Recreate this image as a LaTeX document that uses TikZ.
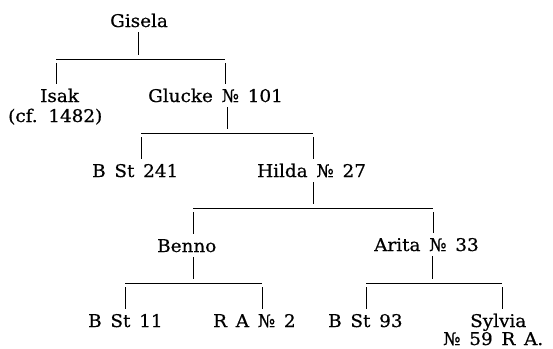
\documentclass[tikz,border=0pt]{standalone}
\usepackage{fontspec}
\newfontfamily\famfont[WordSpace=1.5,FakeBold=0.6,FakeStretch=1.05]{DejaVu Serif}
\begin{document}
\begin{tikzpicture}[x=1pt,y=-1pt]
\tikzset{
  person/.style={font=\famfont\fontsize{17.5}{20}\selectfont, inner xsep=0pt, inner ysep=5pt, anchor=base west},
  line/.style={line width=1pt},
  drop/.style={line, shorten <=4pt}
}
\useasboundingbox (0,0) rectangle (553,348);
% names
\node[person] (gisela) at (110,27) {Gisela};
\node[person] (isak) at (40,102) {Isak};
\node[person] (isakcf) at (8,122) {(cf. 1482)};
\node[person] (glucke) at (148,102) {Glucke № 101};
\node[person] (bst241) at (92,177) {B St 241};
\node[person] (hilda) at (257,177) {Hilda № 27};
\node[person] (benno) at (157,252) {Benno};
\node[person] (arita) at (374,251) {Arita № 33};
\node[person] (bst11) at (88,327) {B St 11};
\node[person] (ra2) at (213,327) {R A № 2};
\node[person] (bst93) at (328,327) {B St 93};
\node[person] (sylvia) at (470,327) {Sylvia};
\node[person] (sylviara) at (443,345) {№ 59 R A.};
% Gisela
\coordinate (gm) at (138,59);
\coordinate (gw) at (56,59);
\coordinate (ge) at (225,59);
\draw[line, shorten >=4pt] (gm |- gisela.south) -- (gm);
\draw[line] (gw) -- (ge);
\draw[drop] (gw) -- (gw |- isak.north);
\draw[drop] (ge) -- (ge |- glucke.north);
% Glucke
\coordinate (hm) at (227,133);
\coordinate (hw) at (141,133);
\coordinate (he) at (313,133);
\draw[line, shorten >=4pt] (hm |- glucke.south) -- (hm);
\draw[line] (hw) -- (he);
\draw[drop] (hw) -- (hw |- bst241.north);
\draw[drop] (he) -- (he |- hilda.north);
% Hilda
\coordinate (km) at (313,208);
\coordinate (kw) at (193,208);
\coordinate (ke) at (433,208);
\draw[line, shorten >=4pt] (km |- hilda.south) -- (km);
\draw[line] (kw) -- (ke);
\draw[drop] (kw) -- (kw |- benno.north);
\draw[drop] (ke) -- (ke |- arita.north);
% Benno
\coordinate (bm) at (193,283);
\coordinate (bw) at (125,283);
\coordinate (be) at (262,283);
\draw[line, shorten >=4pt] (bm |- benno.south) -- (bm);
\draw[line] (bw) -- (be);
\draw[drop] (bw) -- (bw |- bst11.north);
\draw[drop] (be) -- (be |- ra2.north);
% Arita
\coordinate (am) at (432,283);
\coordinate (aw) at (366,283);
\coordinate (ae) at (502,283);
\draw[line, shorten >=4pt] (am |- arita.south) -- (am);
\draw[line] (aw) -- (ae);
\draw[drop] (aw) -- (aw |- bst93.north);
\draw[drop] (ae) -- (ae |- sylvia.north);
\end{tikzpicture}
\end{document}
